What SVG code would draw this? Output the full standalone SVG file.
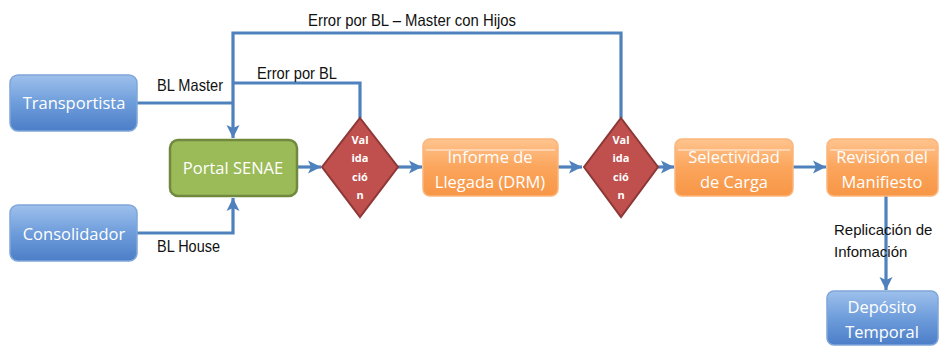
<svg xmlns="http://www.w3.org/2000/svg" width="939" height="347" viewBox="0 0 939 347">
<defs>
<linearGradient id="gBlue" x1="0" y1="0" x2="0" y2="1"><stop offset="0" stop-color="#9EC0EC"/><stop offset="0.5" stop-color="#6E9DDB"/><stop offset="1" stop-color="#4C7EC8"/></linearGradient>
<linearGradient id="gOrange" x1="0" y1="0" x2="0" y2="1"><stop offset="0" stop-color="#FFC48E"/><stop offset="0.5" stop-color="#FBA55C"/><stop offset="1" stop-color="#F79646"/></linearGradient>
<marker id="arr" markerUnits="userSpaceOnUse" markerWidth="16" markerHeight="16" viewBox="0 0 16 16" refX="14" refY="8" orient="auto">
<path d="M1,1.5 L14,8 L1,14.5 L4,8 Z" fill="#4F81BD"/>
</marker>
</defs>
<style>
.ln{fill:none;stroke:#4F81BD;stroke-width:3.2;stroke-linejoin:miter}
.blue{fill:url(#gBlue);stroke:#7FA6D9;stroke-width:1.5}
.orange{fill:url(#gOrange);stroke:#FBB57A;stroke-width:1.5}
.green{fill:#9BBB59;stroke:#71893F;stroke-width:2.5}
.dia{fill:#C0504D;stroke:#8C3836;stroke-width:2}
.nt{font-family:"Open Sans","Noto Sans",sans-serif;font-size:16.5px;fill:#FFFFFF;text-anchor:middle}
.dt{font-family:"Open Sans","Noto Sans",sans-serif;font-size:11px;font-weight:bold;fill:#FFFFFF;text-anchor:middle}
.lb{font-family:"Liberation Sans",Arial,sans-serif;font-size:16.5px;fill:#111111}
.lr{font-family:"Liberation Sans",Arial,sans-serif;font-size:15px;fill:#111111}
.hl{stroke:#FFFFFF;stroke-width:1;opacity:0.8}
</style>
<g id="connectors">
<path class="ln" d="M621,118 V33 H233 V138" marker-end="url(#arr)"/>
<path class="ln" d="M360,118 V83 H233"/>
<path class="ln" d="M137,103 H233"/>
<path class="ln" d="M137,233 H233 V198" marker-end="url(#arr)"/>
<path class="ln" d="M297,167 H321" marker-end="url(#arr)"/>
<path class="ln" d="M398,167 H422" marker-end="url(#arr)"/>
<path class="ln" d="M558,167 H582" marker-end="url(#arr)"/>
<path class="ln" d="M658,167 H674" marker-end="url(#arr)"/>
<path class="ln" d="M793,167 H826" marker-end="url(#arr)"/>
<path class="ln" d="M886,196 V290" marker-end="url(#arr)"/>
<text class="lb" x="308" y="26" textLength="208" lengthAdjust="spacingAndGlyphs">Error por BL – Master con Hijos</text>
<text class="lb" x="257" y="79" textLength="80" lengthAdjust="spacingAndGlyphs">Error por BL</text>
<text class="lb" x="157" y="91" textLength="66" lengthAdjust="spacingAndGlyphs">BL Master</text>
<text class="lb" x="157" y="252" textLength="63" lengthAdjust="spacingAndGlyphs">BL House</text>
<text class="lr" x="834" y="235">Replicación de</text>
<text class="lr" x="834" y="257">Infomación</text>
</g>
<g id="transportista">
<rect class="blue" x="10" y="75" width="127" height="56" rx="8"/>
<text class="nt" x="74" y="109">Transportista</text>
</g>
<g id="consolidador">
<rect class="blue" x="10" y="205" width="127" height="56" rx="8"/>
<text class="nt" x="74" y="240">Consolidador</text>
</g>
<g id="portal">
<rect class="green" x="170" y="140" width="127" height="56" rx="8"/>
<text class="nt" x="233" y="174">Portal SENAE</text>
</g>
<g id="validacion1">
<polygon class="dia" points="360,118 398,167 360,217 322,167"/>
<text class="dt" x="360" y="144">Val</text>
<text class="dt" x="360" y="162">ida</text>
<text class="dt" x="360" y="181">ció</text>
<text class="dt" x="360" y="199">n</text>
</g>
<g id="informe">
<rect class="orange" x="423" y="139" width="135" height="57" rx="7"/>
<line class="hl" x1="426" y1="150" x2="555" y2="150"/>
<text class="nt" x="490" y="163">Informe de</text>
<text class="nt" x="490" y="188">Llegada (DRM)</text>
</g>
<g id="validacion2">
<polygon class="dia" points="621,118 658,167 621,217 584,167"/>
<text class="dt" x="621" y="144">Val</text>
<text class="dt" x="621" y="162">ida</text>
<text class="dt" x="621" y="181">ció</text>
<text class="dt" x="621" y="199">n</text>
</g>
<g id="selectividad">
<rect class="orange" x="675" y="139" width="118" height="57" rx="7"/>
<line class="hl" x1="678" y1="150" x2="790" y2="150"/>
<text class="nt" x="734" y="163">Selectividad</text>
<text class="nt" x="734" y="188">de Carga</text>
</g>
<g id="revision">
<rect class="orange" x="827" y="139" width="111" height="57" rx="7"/>
<line class="hl" x1="830" y1="150" x2="935" y2="150"/>
<text class="nt" x="882" y="163">Revisión del</text>
<text class="nt" x="882" y="188">Manifiesto</text>
</g>
<g id="deposito">
<rect class="blue" x="827" y="291" width="111" height="54" rx="7"/>
<text class="nt" x="882" y="313">Depósito</text>
<text class="nt" x="882" y="338">Temporal</text>
</g>
</svg>
